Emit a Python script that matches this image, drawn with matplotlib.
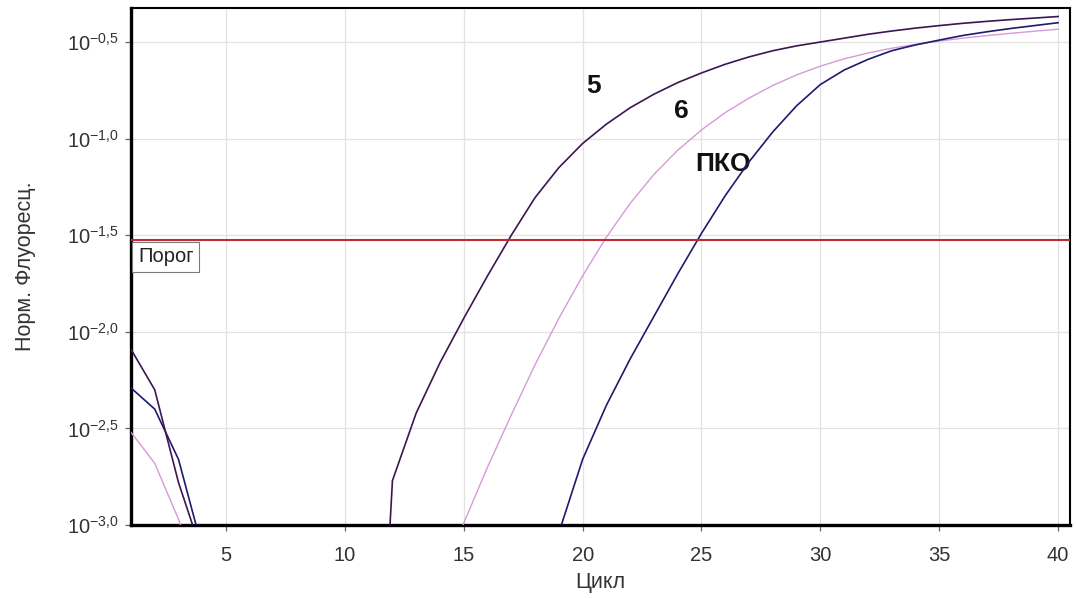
import matplotlib.pyplot as plt
import numpy as np
from matplotlib.ticker import FixedLocator, FixedFormatter

plt.rcParams["font.family"] = ["Liberation Sans", "DejaVu Sans"]

nan = np.nan

# Cycle numbers and log10 of normalised fluorescence for each sample
cycles = np.arange(1, 41)
log_fluor_5 = [
    -2.09, -2.30, -2.78, -3.15, nan, nan, nan, nan, nan, nan,
    -5.00, -2.77, -2.42, -2.16, -1.93, -1.71, -1.50, -1.305, -1.15, -1.025,
    -0.925, -0.84, -0.77, -0.71, -0.66, -0.615, -0.577, -0.545, -0.52, -0.50,
    -0.48, -0.46, -0.443, -0.428, -0.415, -0.403, -0.393, -0.384, -0.376, -0.368,
]
log_fluor_6 = [
    -2.52, -2.68, -2.97, -3.30, nan, nan, nan, nan, nan, nan,
    nan, nan, nan, -3.35, -2.99, -2.70, -2.43, -2.17, -1.93, -1.71,
    -1.51, -1.335, -1.185, -1.06, -0.955, -0.865, -0.79, -0.725, -0.67, -0.625,
    -0.587, -0.557, -0.532, -0.512, -0.495, -0.48, -0.467, -0.455, -0.444, -0.434,
]
log_fluor_pko = [
    -2.29, -2.40, -2.66, -3.12, nan, nan, nan, nan, nan, nan,
    nan, nan, nan, nan, nan, nan, nan, -3.50, -3.04, -2.66,
    -2.38, -2.14, -1.92, -1.70, -1.49, -1.295, -1.12, -0.965, -0.83, -0.72,
    -0.645, -0.59, -0.545, -0.515, -0.49, -0.466, -0.447, -0.43, -0.415, -0.40,
]
threshold = 0.0297

x_ticks = [5, 10, 15, 20, 25, 30, 35, 40]
y_tick_exp = [-3.0, -2.5, -2.0, -1.5, -1.0, -0.5]

fig = plt.figure(figsize=(10.76, 5.99), dpi=100)
ax = fig.add_axes([0.1217, 0.1235, 0.8727, 0.8631])

ax.set_yscale("log")
ax.set_xlim(1, 40.5)
ax.set_ylim(10 ** -3.0, 10 ** -0.324)

# grid
for x in x_ticks:
    ax.axvline(x, color="#e2e2e2", lw=0.9, zorder=0)
for e in y_tick_exp:
    ax.axhline(10 ** e, color="#e2e2e2", lw=0.9, zorder=0)

# amplification curves
ax.plot(cycles, np.power(10, log_fluor_6), color="#d79ad9", lw=1.0, zorder=3)
ax.plot(cycles, np.power(10, log_fluor_pko), color="#1f1a6e", lw=1.2, zorder=4)
ax.plot(cycles, np.power(10, log_fluor_5), color="#3b1650", lw=1.2, zorder=5)

# threshold
ax.axhline(threshold, color="#c02a35", lw=1.5, zorder=6)
ax.annotate("Порог", xy=(0, threshold), xycoords=ax.get_yaxis_transform(),
            xytext=(5, -5), textcoords="offset points", ha="left", va="top",
            fontsize=14.5, color="#222222", zorder=7,
            bbox=dict(boxstyle="square,pad=0.28", fc="white", ec="#7a7a7a", lw=0.8))

# curve labels
label_font = dict(fontsize=19, fontweight="bold", ha="center", va="center", color="#111111")
ax.text(20.44, 10 ** -0.728, "5", **label_font)
ax.text(24.14, 10 ** -0.857, "6", **label_font)
ax.text(25.9, 10 ** -1.131, "ПКО", **label_font)

# ticks
ax.xaxis.set_major_locator(FixedLocator(x_ticks))
ax.yaxis.set_major_locator(FixedLocator([10 ** e for e in y_tick_exp]))
ax.yaxis.set_minor_locator(FixedLocator([]))
ax.yaxis.set_major_formatter(FixedFormatter(
    [r"$\mathregular{10^{%s}}$" % f"{e:.1f}".replace(".", "{,}") for e in y_tick_exp]))
ax.tick_params(axis="both", direction="out", length=4, width=0.9, color="#666666",
               labelcolor="#333333", labelsize=14.5)
ax.tick_params(axis="x", pad=11)
ax.tick_params(axis="y", pad=5)

for side in ("left", "bottom"):
    ax.spines[side].set_linewidth(2.4)
for side in ("top", "right"):
    ax.spines[side].set_linewidth(1.5)

ax.set_xlabel("Цикл", fontsize=15.5, color="#333333", labelpad=5)
ax.set_ylabel("Норм. Флуоресц.", fontsize=15.5, color="#333333", labelpad=22)

fig.savefig("out.png", dpi=100)
